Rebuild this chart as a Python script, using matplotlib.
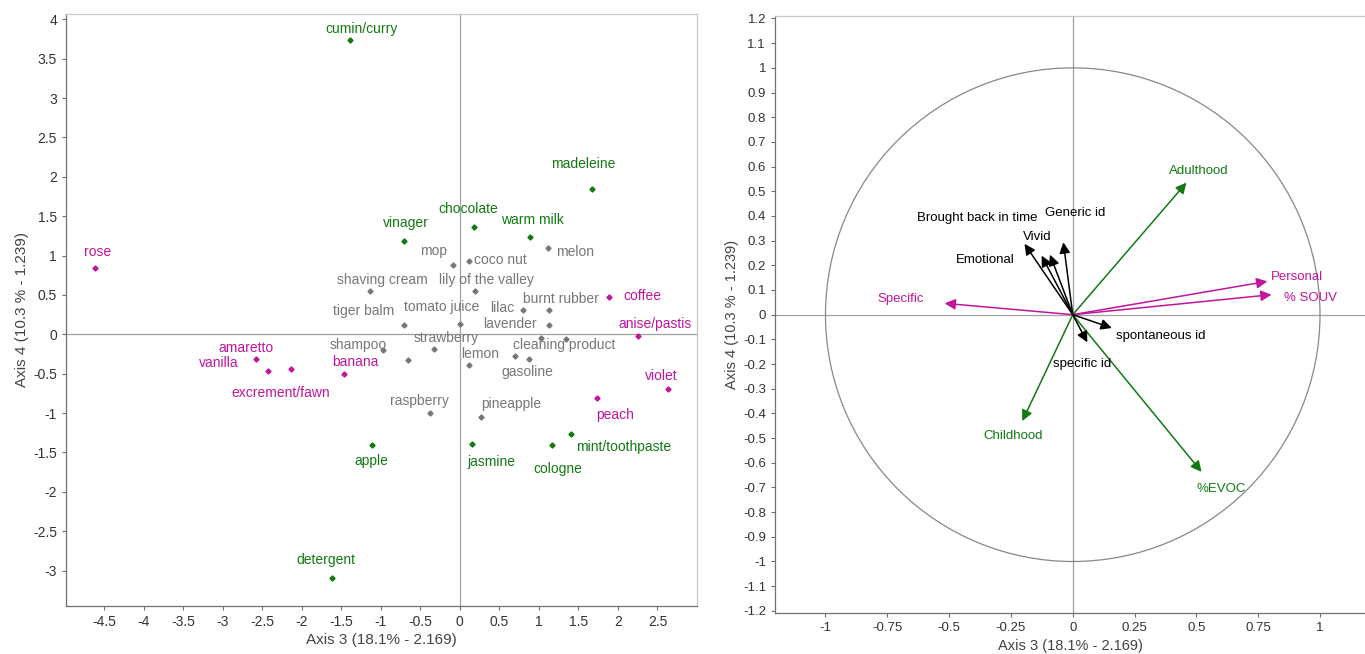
import numpy as np
import matplotlib
matplotlib.use("Agg")
import matplotlib.pyplot as plt
from matplotlib.patches import Circle

plt.rcParams['font.family'] = ['Liberation Sans', 'DejaVu Sans']

GREEN = '#127a12'
MAGENTA = '#c0169c'
GRAY = '#777777'
AXCOL = '#a0a0a0'

# ---- left panel: odours on axes 3/4 ----
odour_names = ['cumin/curry', 'madeleine', 'chocolate', 'vinager', 'warm milk', 'apple', 'jasmine',
               'cologne', 'mint/toothpaste', 'detergent',
               'rose', 'coffee', 'anise/pastis', 'amaretto', 'vanilla', 'excrement/fawn', 'banana',
               'violet', 'peach',
               'mop', 'coco nut', 'melon', 'shaving cream', 'lily of the valley', 'burnt rubber', 'lilac',
               'tiger balm', 'tomato juice', 'lavender', 'strawberry', 'shampoo', 'lemon',
               'cleaning product', 'gasoline', 'raspberry', 'pineapple', '', '', '']
odour_x = [-1.39, 1.67, 0.175, -0.71, 0.89, -1.115, 0.15, 1.17, 1.41, -1.62,
           -4.62, 1.89, 2.26, -2.575, -2.42, -2.14, -1.47, 2.63, 1.74,
           -0.09, 0.12, 1.12, -1.13, 0.19, 1.13, 0.80, -0.71, 0.0, 1.13, -0.32, -0.97, 0.12,
           1.03, 0.87, -0.38, 0.27, -0.66, 1.34, 0.70]
odour_y = [3.74, 1.85, 1.36, 1.18, 1.23, -1.40, -1.39, -1.40, -1.27, -3.09,
           0.84, 0.47, -0.02, -0.32, -0.47, -0.44, -0.51, -0.70, -0.81,
           0.88, 0.93, 1.10, 0.55, 0.55, 0.31, 0.31, 0.12, 0.13, 0.12, -0.19, -0.20, -0.39,
           -0.05, -0.31, -1.00, -1.05, -0.33, -0.06, -0.27]
odour_group = ['g'] * 10 + ['m'] * 9 + ['k'] * 20

# label offsets (pixels, text centre relative to point)
odour_lab = {
    'cumin/curry': (12, 11), 'madeleine': (-9, 25), 'chocolate': (-5, 18), 'vinager': (2, 18),
    'warm milk': (2, 17), 'apple': (0, -16), 'jasmine': (20, -18), 'cologne': (6, -24),
    'mint/toothpaste': (52, -13), 'detergent': (-6, 18), 'rose': (3, 16), 'coffee': (33, 1),
    'anise/pastis': (17, 12), 'amaretto': (-10, 11), 'vanilla': (-50, 8),
    'excrement/fawn': (-10, -24), 'banana': (12, 12), 'violet': (-6, 13), 'peach': (18, -17),
    'mop': (-19, 14), 'coco nut': (31, 1), 'melon': (27, -4), 'shaving cream': (12, 11),
    'lily of the valley': (12, 11), 'burnt rubber': (12, 11), 'lilac': (-21, 2),
    'tiger balm': (-40, 14), 'tomato juice': (-18, 17), 'lavender': (-39, 1),
    'strawberry': (12, 11), 'shampoo': (-25, 5), 'lemon': (11, 11),
    'cleaning product': (23, -7), 'gasoline': (-1, -13), 'raspberry': (-10, 12),
    'pineapple': (30, 13),
}

# ---- right panel: variables correlation circle ----
var_names = ['Adulthood', 'Childhood', '%EVOC', 'Personal', '% SOUV', 'Specific',
             'Brought back in time', 'Emotional', 'Vivid', 'Generic id', 'spontaneous id', 'specific id']
var_x = [0.46, -0.204, 0.521, 0.787, 0.804, -0.518, -0.195, -0.126, -0.092, -0.038, 0.158, 0.059]
var_y = [0.535, -0.431, -0.637, 0.135, 0.081, 0.046, 0.287, 0.239, 0.243, 0.293, -0.054, -0.112]
var_group = ['g', 'g', 'g', 'm', 'm', 'm', 'k', 'k', 'k', 'k', 'k', 'k']
var_lab = {
    'Adulthood': (12, 12), 'Childhood': (-9, -15), '%EVOC': (20, -17), 'Personal': (30, 4),
    '% SOUV': (39, -3), 'Specific': (-44, 4), 'Brought back in time': (-47, 26),
    'Emotional': (-56, -4), 'Vivid': (-13, 18), 'Generic id': (12, 29),
    'spontaneous id': (49, -8), 'specific id': (-5, -22),
}

colmap = {'g': GREEN, 'm': MAGENTA, 'k': GRAY}
arrowcol = {'g': GREEN, 'm': MAGENTA, 'k': 'black'}

fig = plt.figure(figsize=(13.65, 6.54), dpi=100)
ax1 = fig.add_axes([0.0484, 0.0734, 0.4622, 0.9056])
ax2 = fig.add_axes([0.5678, 0.0622, 0.4322, 0.9133])


def style_axes(ax):
    for s in ['top', 'right']:
        ax.spines[s].set_color('#c8c8c8')
    for s in ['left', 'bottom']:
        ax.spines[s].set_color('#707070')
    for s in ax.spines.values():
        s.set_linewidth(0.9)
    ax.tick_params(direction='out', length=3, width=0.8, color='#707070', labelcolor='#333333')
    ax.axhline(0, color=AXCOL, lw=0.9, zorder=0)
    ax.axvline(0, color=AXCOL, lw=0.9, zorder=0)


# left
style_axes(ax1)
for n, x, y, g in zip(odour_names, odour_x, odour_y, odour_group):
    ax1.plot(x, y, marker='D', ms=2.6, color=colmap[g], ls='none')
    if n:
        dx, dy = odour_lab[n]
        ax1.annotate(n, (x, y), xytext=(dx, dy), textcoords='offset pixels', ha='center', va='center',
                     color=colmap[g], fontsize=10)
ax1.set_xlim(-4.98, 3.0)
ax1.set_ylim(-3.45, 4.07)
xt = np.arange(-4.5, 2.51, 0.5)
ax1.set_xticks(xt)
ax1.set_xticklabels(['%g' % v for v in xt], fontsize=10)
yt = np.arange(-3, 4.01, 0.5)
ax1.set_yticks(yt)
ax1.set_yticklabels(['%g' % v for v in yt], fontsize=10)
ax1.set_xlabel('Axis 3 (18.1% - 2.169)', fontsize=11, color='#444444', labelpad=3)
ax1.set_ylabel('Axis 4 (10.3 % - 1.239)', fontsize=11, color='#444444', labelpad=3)

# right (cut off at the image edge, no visible right spine)
style_axes(ax2)
ax2.spines['right'].set_visible(False)
ax2.add_patch(Circle((0, 0), 1, fill=False, ec='#888888', lw=0.9))
for n, x, y, g in zip(var_names, var_x, var_y, var_group):
    ax2.annotate('', xy=(x, y), xytext=(0, 0),
                 arrowprops=dict(arrowstyle='-|>', color=arrowcol[g], lw=1.1,
                                 mutation_scale=16, shrinkA=0, shrinkB=0))
    dx, dy = var_lab[n]
    ax2.annotate(n, (x, y), xytext=(dx, dy), textcoords='offset pixels', ha='center', va='center',
                 color=colmap[g] if g != 'k' else 'black', fontsize=9.5)
ax2.set_xlim(-1.204, 1.182)
ax2.set_ylim(-1.21, 1.21)
xt2 = np.arange(-1, 1.01, 0.25)
ax2.set_xticks(xt2)
ax2.set_xticklabels(['%g' % v for v in xt2], fontsize=9.5)
yt2 = np.round(np.arange(-1.2, 1.21, 0.1), 1)
ax2.set_yticks(yt2)
ax2.set_yticklabels(['%g' % (v + 0.0) for v in yt2], fontsize=9.5)
ax2.set_xlabel('Axis 3 (18.1% - 2.169)', fontsize=10.5, color='#444444', labelpad=3)
ax2.set_ylabel('Axis 4 (10.3 % - 1.239)', fontsize=10.5, color='#444444', labelpad=3)

fig.savefig('out.png', dpi=100)
